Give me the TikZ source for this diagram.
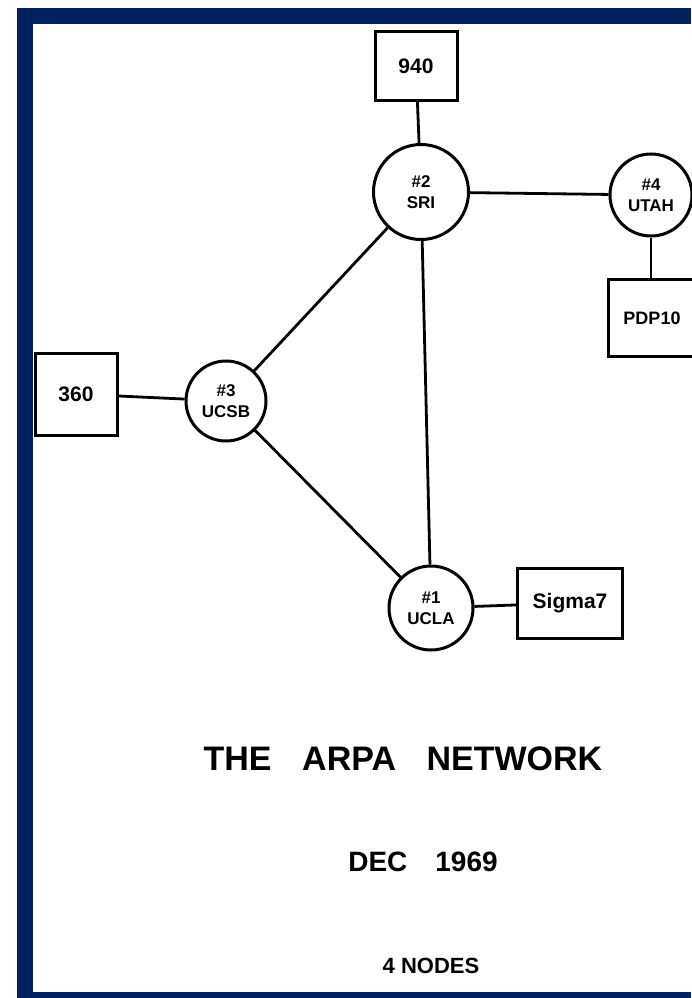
\documentclass[tikz,border=0pt]{standalone}
\usepackage{fontspec}
\setmainfont{Liberation Sans}
\usepackage{xcolor}
\usetikzlibrary{shapes,positioning,calc}
\definecolor{framenavy}{RGB}{0,32,96}

\begin{document}
\begin{tikzpicture}[x=1pt, y=-1pt,
  host/.style={rectangle, draw, line width=3pt, inner sep=0pt, font=\bfseries\fontsize{21}{24}\selectfont},
  imp/.style={circle, draw, line width=3pt, inner sep=0pt, align=center, font=\bfseries\fontsize{17}{21}\selectfont},
  link/.style={line width=2.8pt},
  caption/.style={inner sep=0pt, font=\bfseries}]
\useasboundingbox (0,0) rectangle (691,998);
\fill[white] (0,0) rectangle (691,998);
\fill[framenavy] (17,8) rectangle (691,998);
\fill[white] (33,24) rectangle (691,992);

\node[host, minimum width=82, minimum height=68] (h940) at (416,66) {940};
\node[imp, minimum size=95] (sri) at (421,192) {\#2\\SRI};
\node[imp, minimum size=82] (utah) at (651,195) {\#4\\UTAH};
\node[host, minimum width=96, minimum height=77, font=\bfseries\fontsize{18}{21}\selectfont] (pdp) at (656,318) {\hspace*{-8pt}PDP10};
\node[imp, minimum size=80] (ucsb) at (226,401) {\#3\\UCSB};
\node[host, minimum width=82, minimum height=82] (h360) at (76,394) {360};
\node[imp, minimum size=84] (ucla) at (431,608) {\#1\\UCLA};
\node[host, minimum width=105, minimum height=70] (sigma) at (570,603) {Sigma7};

\draw[link] (h940) -- (sri);
\draw[link] (sri) -- (utah);
\draw[link] (utah) -- (pdp.north -| utah);
\draw[link] (sri) -- (ucsb);
\draw[link] (sri) -- (ucla);
\draw[link] (h360) -- (ucsb);
\draw[link] (ucsb) -- (ucla);
\draw[link] (ucla) -- (sigma);

\node[caption, font=\bfseries\fontsize{34}{38}\selectfont] (title) at (403,759) {THE\hspace{0.9em}ARPA\hspace{0.9em}NETWORK};
\node[caption, font=\bfseries\fontsize{28}{32}\selectfont] (date) at (423,862) {DEC\hspace{1em}1969};
\node[caption, font=\bfseries\fontsize{22}{26}\selectfont] (count) at (431,966) {4 NODES};
\end{tikzpicture}
\end{document}
